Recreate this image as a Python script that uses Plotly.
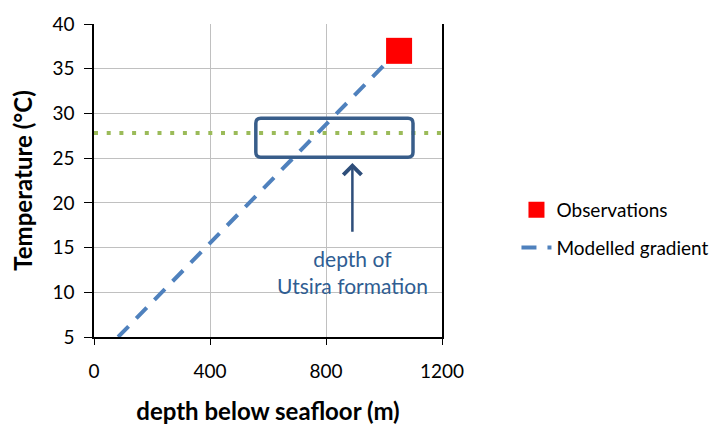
import plotly.graph_objects as go

# ---- data ----
obs_depth = [1052]
obs_temp = [37.0]

model_depth = [83, 1003]
model_temp = [5.0, 35.5]

utsira_temp_depth = [0, 1200]
utsira_temp = [27.8, 27.8]

box_x = [558, 1100]      # rounded box around Utsira formation depth
box_y = [25.1, 29.45]
arrow_x = 891
arrow_tail_y = 16.6
arrow_head_y = 24.45
label_x = 890
label_y = 15.45
label_text = "depth of<br>Utsira formation"

x_ticks = [0, 400, 800, 1200]
y_ticks = [5, 10, 15, 20, 25, 30, 35, 40]

FONT = "Lato"
TXT_BLUE = "#2F5D92"
BOX_BLUE = "#385D8A"

fig = go.Figure()

fig.add_trace(go.Scatter(
    x=utsira_temp_depth, y=utsira_temp, mode="lines",
    line=dict(color="#9BBB59", width=4, dash="4px,8.7px"),
    showlegend=False, hoverinfo="skip", cliponaxis=False))

fig.add_trace(go.Scatter(
    x=obs_depth, y=obs_temp, mode="markers", name="Observations",
    marker=dict(symbol="square", size=26, color="#FF0000"),
    legendgroup="a"))

fig.add_trace(go.Scatter(
    x=model_depth, y=model_temp, mode="lines", name="Modelled gradient",
    line=dict(color="#4F81BD", width=4, dash="15px,11px"),
    legendgroup="b"))

# rounded rectangle
rx, ry = 17, 0.56
x0, x1 = box_x
y0, y1 = box_y
path = (f"M {x0+rx},{y0} L {x1-rx},{y0} Q {x1},{y0} {x1},{y0+ry} "
        f"L {x1},{y1-ry} Q {x1},{y1} {x1-rx},{y1} "
        f"L {x0+rx},{y1} Q {x0},{y1} {x0},{y1-ry} "
        f"L {x0},{y0+ry} Q {x0},{y0} {x0+rx},{y0} Z")
fig.add_shape(type="path", path=path, xref="x", yref="y",
              line=dict(color=BOX_BLUE, width=3.5))

fig.add_annotation(x=arrow_x, y=arrow_head_y, ax=arrow_x, ay=arrow_tail_y,
                   xref="x", yref="y", axref="x", ayref="y",
                   showarrow=True, arrowhead=4, arrowsize=1.4, arrowwidth=2.5,
                   arrowcolor="#2E4E7A", text="")

fig.add_annotation(x=label_x, y=label_y, xref="x", yref="y",
                   text=label_text, showarrow=False, yanchor="top",
                   font=dict(family=FONT, size=21, color=TXT_BLUE), align="center")

# the page body adds an 8px offset, margins compensate for it
fig.update_layout(
    width=719, height=426,
    margin=dict(l=86, r=283, t=16, b=97),
    paper_bgcolor="white", plot_bgcolor="white",
    font=dict(family=FONT, size=19, color="#000000"),
    legend=dict(x=1.214, y=0.345, xanchor="left", yanchor="middle",
                traceorder="grouped", tracegroupgap=10,
                font=dict(family=FONT, size=19, color="#000000")),
    xaxis=dict(range=[0, 1200], tickvals=x_ticks, showgrid=True,
               gridcolor="#C0C0C0", gridwidth=1.3, automargin=False,
               showline=True, linecolor="#000000", linewidth=1.5,
               ticks="outside", ticklen=6, tickcolor="#000000",
               ticklabelstandoff=10, zeroline=False,
               title=dict(text="<b>depth below seafloor (m)</b>",
                          font=dict(family=FONT, size=24), standoff=23)),
    yaxis=dict(range=[5, 40], tickvals=y_ticks, showgrid=True,
               gridcolor="#C0C0C0", gridwidth=1.3, automargin=False,
               showline=True, linecolor="#000000", linewidth=1.5, mirror=True,
               ticks="outside", ticklen=8, tickcolor="#000000",
               ticklabelstandoff=6, zeroline=False,
               title=dict(text="<b>Temperature (°C)</b>",
                          font=dict(family=FONT, size=24), standoff=24)),
)

fig.write_html("out.html")
